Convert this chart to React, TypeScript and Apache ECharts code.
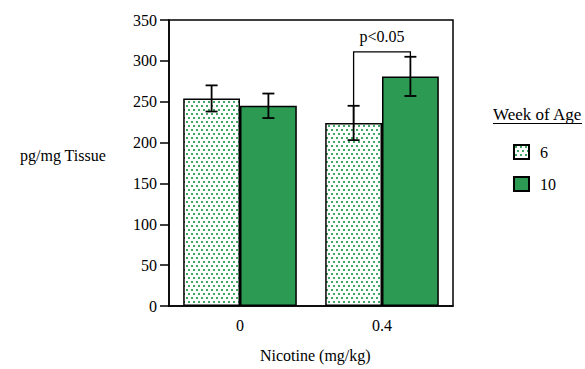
import React, { useEffect, useRef } from "react";
import * as echarts from "echarts";

const categories = ["0", "0.4"];
const weeks = ["6", "10"];
const week6Means = [254, 224];
const week6Errors = [16, 21];
const week10Means = [245, 281];
const week10Errors = [15, 24];
const yTicks = { min: 0, max: 350, interval: 50 };
// significance bracket: [leftCategory, leftLow, rightLow, bracketTop, labelValue]
const bracket = [[1, 224, 305, 311, 330]];
const bracketLabel = "p<0.05";

const GREEN = "#2d9a53";
const FONT = "Liberation Serif";

function makeDots(): HTMLCanvasElement {
  const c = document.createElement("canvas");
  c.width = 10;
  c.height = 8;
  const ctx = c.getContext("2d")!;
  ctx.fillStyle = "#ffffff";
  ctx.fillRect(0, 0, 10, 8);
  ctx.fillStyle = "#3fa862";
  const pts = [[1, 1], [6, 1], [3, 5], [8, 5]];
  pts.forEach(([x, y]) => ctx.fillRect(x, y, 2, 2));
  return c;
}

export default function App() {
  const ref = useRef<HTMLDivElement>(null);
  useEffect(() => {
    if (!ref.current) return;
    const chart = echarts.init(ref.current, undefined, { renderer: "svg" });
    const dots = makeDots();

    const errData = (means: number[], errs: number[], sign: number) =>
      means.map((m, i) => [i, m, errs[i], sign]);

    const errorRender = (params: any, api: any) => {
      const idx = api.value(0);
      const mean = api.value(1);
      const err = api.value(2);
      const sign = api.value(3);
      const band = api.size([1, 0])[0];
      const x = api.coord([idx, 0])[0] + sign * band * 0.2;
      const yHi = api.coord([idx, mean + err])[1];
      const yLo = api.coord([idx, mean - err])[1];
      const cap = 6;
      const style = { stroke: "#000", lineWidth: 1.8 };
      return {
        type: "group",
        children: [
          { type: "line", shape: { x1: x, y1: yHi, x2: x, y2: yLo }, style },
          { type: "line", shape: { x1: x - cap, y1: yHi, x2: x + cap, y2: yHi }, style },
          { type: "line", shape: { x1: x - cap, y1: yLo, x2: x + cap, y2: yLo }, style },
        ],
      };
    };

    const bracketRender = (params: any, api: any) => {
      const idx = api.value(0);
      const leftLow = api.value(1);
      const rightLow = api.value(2);
      const top = api.value(3);
      const labelV = api.value(4);
      const band = api.size([1, 0])[0];
      const cx = api.coord([idx, 0])[0];
      const xl = cx - band * 0.2;
      const xr = cx + band * 0.2;
      const yt = api.coord([idx, top])[1];
      const yl = api.coord([idx, leftLow])[1];
      const yr = api.coord([idx, rightLow])[1];
      const yLab = api.coord([idx, labelV])[1];
      const style = { stroke: "#000", lineWidth: 1.3 };
      return {
        type: "group",
        children: [
          { type: "polyline", shape: { points: [[xl, yl], [xl, yt], [xr, yt], [xr, yr]] }, style: { ...style, fill: "none" } },
          {
            type: "text",
            x: cx,
            y: yLab,
            style: {
              text: bracketLabel,
              fill: "#000",
              font: `16px "${FONT}"`,
              align: "center",
              verticalAlign: "middle",
            },
          },
        ],
      };
    };

    chart.setOption({
      animation: false,
      backgroundColor: "#fff",
      textStyle: { fontFamily: FONT, color: "#000" },
      grid: {
        left: 169,
        right: 132,
        top: 20,
        bottom: 63,
        show: true,
        borderColor: "#000",
        borderWidth: 1.5,
        containLabel: false,
      },
      legend: {
        data: weeks,
        orient: "vertical",
        icon: "rect",
        left: 508,
        top: 139,
        itemWidth: 15,
        itemHeight: 14,
        itemGap: 16,
        selectedMode: false,
        textStyle: { fontFamily: FONT, fontSize: 16, color: "#000", padding: [0, 0, 0, 6] },
      },
      xAxis: {
        type: "category",
        data: categories,
        axisLine: { lineStyle: { color: "#000", width: 1.5 } },
        axisTick: { alignWithLabel: true, length: 9, lineStyle: { color: "#000", width: 1.5 } },
        axisLabel: { margin: 11, fontSize: 16, fontFamily: FONT, color: "#000" },
      },
      yAxis: {
        type: "value",
        min: yTicks.min,
        max: yTicks.max,
        interval: yTicks.interval,
        splitLine: { show: false },
        axisLine: { show: true, lineStyle: { color: "#000", width: 1.5 } },
        axisTick: { show: true, length: 9, lineStyle: { color: "#000", width: 1.5 } },
        axisLabel: { margin: 12, fontSize: 16, fontFamily: FONT, color: "#000" },
      },
      series: [
        {
          name: weeks[0],
          type: "bar",
          data: week6Means,
          barWidth: "40%",
          barGap: "0%",
          itemStyle: {
            color: { image: dots, repeat: "repeat" },
            borderColor: "#000",
            borderWidth: 1.5,
          },
        },
        {
          name: weeks[1],
          type: "bar",
          data: week10Means,
          barWidth: "40%",
          barGap: "0%",
          itemStyle: { color: GREEN, borderColor: "#000", borderWidth: 1.5 },
        },
        {
          type: "custom",
          renderItem: errorRender,
          data: errData(week6Means, week6Errors, -1),
          z: 5,
        },
        {
          type: "custom",
          renderItem: errorRender,
          data: errData(week10Means, week10Errors, 1),
          z: 5,
        },
        {
          type: "custom",
          renderItem: bracketRender,
          data: bracket,
          z: 5,
        },
      ],
      graphic: [
        {
          type: "text",
          left: 20,
          top: 147,
          style: { text: "pg/mg Tissue", font: `16px "${FONT}"`, fill: "#000" },
        },
        {
          type: "text",
          left: 260,
          top: 347,
          style: { text: "Nicotine (mg/kg)", font: `16px "${FONT}"`, fill: "#000" },
        },
        {
          type: "text",
          left: 493,
          top: 106,
          style: { text: "Week of Age", font: `17px "${FONT}"`, fill: "#000" },
        },
        {
          type: "line",
          shape: { x1: 493, y1: 123.5, x2: 582, y2: 123.5 },
          style: { stroke: "#000", lineWidth: 1.2 },
        },
      ],
    });
    return () => chart.dispose();
  }, []);
  return (
    <div
      ref={ref}
      style={{ position: "fixed", left: 0, top: 0, width: 585, height: 369 }}
    />
  );
}
